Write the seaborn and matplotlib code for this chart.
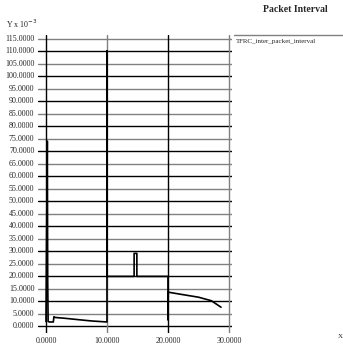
#packet interval trace, xgraph style
import matplotlib
matplotlib.use("Agg")
import matplotlib.pyplot as plt
import seaborn as sns
import pandas as pd

# data (x in s, y in units of 1e-3)
time = [0.0, 0.22, 0.28, 0.35, 0.55, 1.2, 1.3, 1.5, 3.0, 5.0, 7.5, 10.0,
        10.0, 10.0, 14.45, 14.45, 14.9, 14.9, 20.0, 20.0, 20.0, 20.05,
        22.0, 25.0, 27.1, 28.7]
interval = [2.0, 74.0, 18.7, 2.0, 1.8, 1.8, 3.9, 3.6, 3.3, 2.8, 2.2, 1.8,
            110.0, 20.0, 20.0, 29.2, 29.2, 20.0, 20.0, 18.8, 2.6, 13.7,
            12.9, 11.7, 10.3, 7.7]
xticks = [0, 10, 20, 30]
yticks = list(range(0, 120, 5))
series_name = "TFRC_inter_packet_interval"

sns.set_style("white")
plt.rcParams["font.family"] = ["Liberation Serif", "DejaVu Serif"]

fig = plt.figure(figsize=(3.43, 3.53), dpi=100)
W, H = 343, 353
# axes: x from -1.31 to 30.5 -> px 38..232, y from -2.6 to 116.4 -> px 35..333
ax = fig.add_axes([38 / W, 1 - 333 / H, (232 - 38) / W, (333 - 35) / H])
ax.set_xlim(-1.31, 30.5)
ax.set_ylim(-2.6, 116.4)

for i, yv in enumerate(yticks):
    ax.axhline(yv, color="black" if i % 2 == 0 else "#808080", lw=1.0, zorder=1)
for i, xv in enumerate(xticks):
    ax.axvline(xv, color="black" if i % 2 == 0 else "#808080", lw=1.0, zorder=1)

df = pd.DataFrame({"time": time, "interval": interval})
sns.lineplot(data=df, x="time", y="interval", sort=False, estimator=None,
             color="black", lw=1.2, ax=ax, zorder=3)

for s in ax.spines.values():
    s.set_visible(False)
ax.set_xticks([])
ax.set_yticks([])
ax.set_xlabel("")
ax.set_ylabel("")

# tick labels
for yv in yticks:
    ax.text(-1.9, yv, f"{yv:.4f}", ha="right", va="center", fontsize=5.8)
for xv in xticks:
    ax.text(xv, -5.8, f"{xv:.4f}", ha="center", va="center", fontsize=5.8,
            clip_on=False)

fig.text(6 / W, 1 - 24 / H, "Y x 10$^{-3}$", ha="left", va="center", fontsize=5.8)
fig.text(295 / W, 1 - 10 / H, "Packet Interval", ha="center", va="center",
         fontsize=7, fontweight="bold")
fig.text(338 / W, 1 - 337 / H, "X", ha="left", va="center", fontsize=5)

# legend drawn xgraph-style
fig.add_artist(plt.Line2D([234 / W, 1.0], [1 - 35 / H, 1 - 35 / H],
                          color="#808080", lw=1.0))
fig.text(236 / W, 1 - 41 / H, series_name, ha="left", va="center", fontsize=5)

fig.savefig("out.png", dpi=100)
